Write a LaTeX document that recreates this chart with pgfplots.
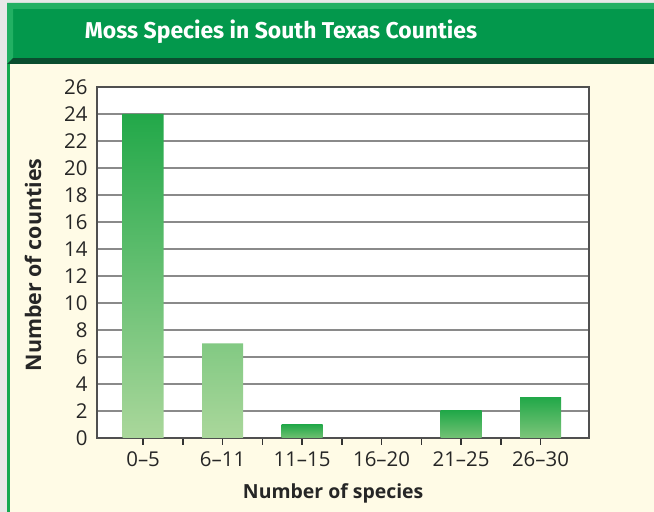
\documentclass[border=0pt]{standalone}
\usepackage{fontspec}
\setmainfont{Open Sans}
\newfontfamily\titlefont{Fira Sans}
\usepackage{pgfplots}
\pgfplotsset{compat=1.18}
\definecolor{bggray}{HTML}{E8E8E8}
\definecolor{cream}{HTML}{FFFBE6}
\definecolor{leftgreen}{HTML}{15A950}
\definecolor{darkband}{HTML}{0A4D2F}
\definecolor{titlegreen}{HTML}{03984C}
\definecolor{hilite}{HTML}{22B063}
\definecolor{bartop}{HTML}{22A849}
\definecolor{barlight}{HTML}{AAD79B}
\definecolor{barmidA}{HTML}{6FC071}
\definecolor{barmidB}{HTML}{74C275}
\definecolor{barmidC}{HTML}{7DC57A}
\definecolor{axisgray}{HTML}{505050}
\definecolor{gridgray}{HTML}{8A8A8A}
\begin{document}
\begin{tikzpicture}[x=1bp,y=1bp]
\fill[bggray] (0,0) rectangle (654,512);
\fill[cream] (10,0) rectangle (654,448);
\fill[leftgreen] (7,0) rectangle (10,448);
\fill[darkband] (7,448) rectangle (654,454);
\fill[titlegreen] (7,454) rectangle (654,509);
\fill[hilite] (7,448) -- (7,509) -- (654,509) -- (654,503) -- (13,503) -- (13,454) -- cycle;
\node[text=white, font=\titlefont\bfseries\fontsize{23}{23}\selectfont, anchor=base] at (281,473) {Moss Species in South Texas Counties};
\begin{axis}[
  at={(97bp,74bp)}, anchor=south west,
  scale only axis, width=492bp, height=351bp,
  xmin=-0.58, xmax=5.61, ymin=0, ymax=26,
  ytick={0,2,...,26},
  xtick={0,1,2,3,4,5},
  xticklabels={0–5,6–11,11–15,16–20,21–25,26–30},
  minor xtick={0.5,1.5,2.5,3.5,4.5},
  ymajorgrids, major grid style={gridgray, line width=1.3bp},
  axis line style={axisgray, line width=1.6bp},
  tick align=outside,
  xtick style={black!80, line width=1.6bp},
  major tick length=7bp, minor tick length=7bp,
  ytick style={draw=none},
  xtick pos=bottom,
  tick label style={font=\fontsize{20.5}{20.5}\selectfont, text=black!85},
  xticklabel style={yshift=-3bp},
  yticklabel style={xshift=1bp},
  /pgf/number format/assume math mode=true,
  axis background/.style={fill=white},
  ybar, bar width=41bp,
  xlabel={Number of species},
  xlabel style={font=\bfseries\fontsize{19.5}{19.5}\selectfont, text=black!85, at={(axis description cs:0.48,-0.157)}, anchor=center},
  ylabel={Number of counties},
  ylabel style={font=\bfseries\fontsize{21.5}{21.5}\selectfont, text=black!85, at={(axis description cs:-0.13,0.493)}, anchor=center},
]
\addplot[draw=none, top color=bartop, bottom color=barlight, bar shift=0pt] coordinates {(0,24) (1,7)};
\addplot[draw=none, top color=bartop, bottom color=barmidA, bar shift=0pt] coordinates {(2,1)};
\addplot[draw=none, fill=none, bar shift=0pt] coordinates {(3,0)};
\addplot[draw=none, top color=bartop, bottom color=barmidB, bar shift=0pt] coordinates {(4,2)};
\addplot[draw=none, top color=bartop, bottom color=barmidC, bar shift=0pt] coordinates {(5,3)};
\end{axis}
\end{tikzpicture}
\end{document}
